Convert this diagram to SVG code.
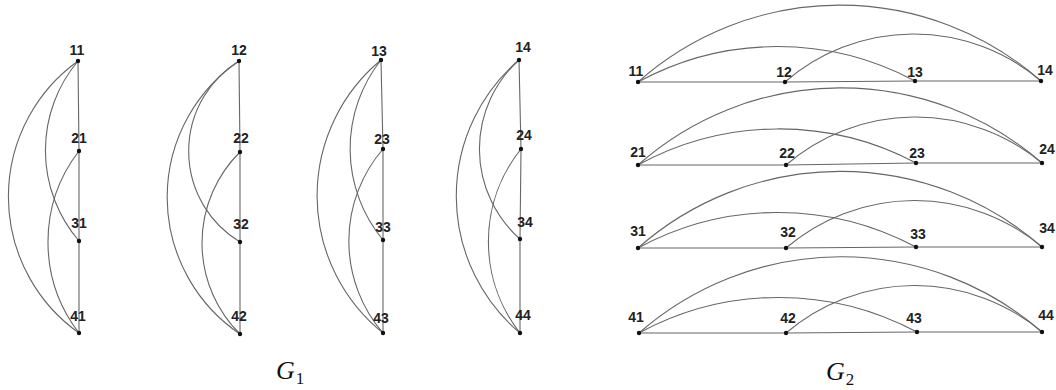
<svg xmlns="http://www.w3.org/2000/svg" width="1056" height="390" viewBox="0 0 1056 390">
<style>
.e{fill:none;stroke:#666;stroke-width:1.1}
.n{fill:#111}
.l{font-family:"Liberation Sans",Arial,sans-serif;font-size:14px;font-weight:bold;fill:#222;text-anchor:middle}
.g{font-family:"Liberation Serif","Times New Roman",serif;font-style:italic;font-size:26px;fill:#111}
.s{font-family:"Liberation Serif","Times New Roman",serif;font-style:normal;font-size:17px;fill:#111}
</style>
<rect width="1056" height="390" fill="#fff"/>
<g id="connectors">
<path class="e" d="M78 61 L79 151 L79 241 L79 333"/>
<path class="e" d="M78 61 A167 167 0 0 0 79 333"/>
<path class="e" d="M78 61 A139 139 0 0 0 79 241"/>
<path class="e" d="M79 151 A149 149 0 0 0 79 333"/>
<path class="e" d="M239 61 L240 152 L240 242 L240 334"/>
<path class="e" d="M239 61 A165 165 0 0 0 240 334"/>
<path class="e" d="M239 61 A106 106 0 0 0 240 242"/>
<path class="e" d="M240 152 A128 128 0 0 0 240 334"/>
<path class="e" d="M381 60 L383 149 L383 240 L383 333"/>
<path class="e" d="M381 60 A176 176 0 0 0 383 333"/>
<path class="e" d="M381 60 A143 143 0 0 0 383 240"/>
<path class="e" d="M383 149 A141 141 0 0 0 383 333"/>
<path class="e" d="M519 60 L521 149 L520 239 L520 333"/>
<path class="e" d="M519 60 A179 179 0 0 0 520 333"/>
<path class="e" d="M519 60 A120 120 0 0 0 520 239"/>
<path class="e" d="M521 149 A148 148 0 0 0 520 333"/>
<path class="e" d="M638 82 L785 82 L915 81 L1041 81"/>
<path class="e" d="M638 82 A304 304 0 0 1 1041 81"/>
<path class="e" d="M638 82 A292 292 0 0 1 915 81"/>
<path class="e" d="M785 82 A196 196 0 0 1 1041 81"/>
<path class="e" d="M638 165 L786 165 L916 163 L1042 163"/>
<path class="e" d="M638 165 A306 306 0 0 1 1042 163"/>
<path class="e" d="M638 165 A293 293 0 0 1 916 163"/>
<path class="e" d="M786 165 A198 198 0 0 1 1042 163"/>
<path class="e" d="M638 248 L786 248 L916 247 L1042 247"/>
<path class="e" d="M638 248 A306 306 0 0 1 1042 247"/>
<path class="e" d="M638 248 A293 293 0 0 1 916 247"/>
<path class="e" d="M786 248 A198 198 0 0 1 1042 247"/>
<path class="e" d="M639 333 L786 333 L917 332 L1042 332"/>
<path class="e" d="M639 333 A306 306 0 0 1 1042 332"/>
<path class="e" d="M639 333 A293 293 0 0 1 917 332"/>
<path class="e" d="M786 333 A198 198 0 0 1 1042 332"/>
</g>
<g id="G1">
<g id="n11a"><circle class="n" cx="78" cy="61" r="2.2"/><text class="l" x="77" y="55">11</text></g>
<g id="n21a"><circle class="n" cx="79" cy="151" r="2.2"/><text class="l" x="79" y="143">21</text></g>
<g id="n31a"><circle class="n" cx="79" cy="241" r="2.2"/><text class="l" x="79" y="228">31</text></g>
<g id="n41a"><circle class="n" cx="79" cy="333" r="2.2"/><text class="l" x="78" y="321">41</text></g>
<g id="n12a"><circle class="n" cx="239" cy="61" r="2.2"/><text class="l" x="239" y="55">12</text></g>
<g id="n22a"><circle class="n" cx="240" cy="152" r="2.2"/><text class="l" x="241" y="143">22</text></g>
<g id="n32a"><circle class="n" cx="240" cy="242" r="2.2"/><text class="l" x="241" y="229">32</text></g>
<g id="n42a"><circle class="n" cx="240" cy="334" r="2.2"/><text class="l" x="239" y="321">42</text></g>
<g id="n13a"><circle class="n" cx="381" cy="60" r="2.2"/><text class="l" x="379" y="56">13</text></g>
<g id="n23a"><circle class="n" cx="383" cy="149" r="2.2"/><text class="l" x="382" y="144">23</text></g>
<g id="n33a"><circle class="n" cx="383" cy="240" r="2.2"/><text class="l" x="383" y="232">33</text></g>
<g id="n43a"><circle class="n" cx="383" cy="333" r="2.2"/><text class="l" x="381" y="323">43</text></g>
<g id="n14a"><circle class="n" cx="519" cy="60" r="2.2"/><text class="l" x="523" y="52">14</text></g>
<g id="n24a"><circle class="n" cx="521" cy="149" r="2.2"/><text class="l" x="524" y="140">24</text></g>
<g id="n34a"><circle class="n" cx="520" cy="239" r="2.2"/><text class="l" x="525" y="227">34</text></g>
<g id="n44a"><circle class="n" cx="520" cy="333" r="2.2"/><text class="l" x="523" y="320">44</text></g>
<text class="g" x="276" y="379">G<tspan class="s" dx="1" dy="5">1</tspan></text>
</g>
<g id="G2">
<g id="n11b"><circle class="n" cx="638" cy="82" r="2.2"/><text class="l" x="636" y="76">11</text></g>
<g id="n12b"><circle class="n" cx="785" cy="82" r="2.2"/><text class="l" x="784" y="77">12</text></g>
<g id="n13b"><circle class="n" cx="915" cy="81" r="2.2"/><text class="l" x="915" y="77">13</text></g>
<g id="n14b"><circle class="n" cx="1041" cy="81" r="2.2"/><text class="l" x="1045" y="75">14</text></g>
<g id="n21b"><circle class="n" cx="638" cy="165" r="2.2"/><text class="l" x="638" y="157">21</text></g>
<g id="n22b"><circle class="n" cx="786" cy="165" r="2.2"/><text class="l" x="787" y="158">22</text></g>
<g id="n23b"><circle class="n" cx="916" cy="163" r="2.2"/><text class="l" x="917" y="158">23</text></g>
<g id="n24b"><circle class="n" cx="1042" cy="163" r="2.2"/><text class="l" x="1047" y="154">24</text></g>
<g id="n31b"><circle class="n" cx="638" cy="248" r="2.2"/><text class="l" x="638" y="236">31</text></g>
<g id="n32b"><circle class="n" cx="786" cy="248" r="2.2"/><text class="l" x="788" y="237">32</text></g>
<g id="n33b"><circle class="n" cx="916" cy="247" r="2.2"/><text class="l" x="918" y="239">33</text></g>
<g id="n34b"><circle class="n" cx="1042" cy="247" r="2.2"/><text class="l" x="1047" y="233">34</text></g>
<g id="n41b"><circle class="n" cx="639" cy="333" r="2.2"/><text class="l" x="636" y="322">41</text></g>
<g id="n42b"><circle class="n" cx="786" cy="333" r="2.2"/><text class="l" x="788" y="323">42</text></g>
<g id="n43b"><circle class="n" cx="917" cy="332" r="2.2"/><text class="l" x="914" y="323">43</text></g>
<g id="n44b"><circle class="n" cx="1042" cy="332" r="2.2"/><text class="l" x="1046" y="320">44</text></g>
<text class="g" x="826" y="380">G<tspan class="s" dx="1" dy="5">2</tspan></text>
</g>
</svg>
